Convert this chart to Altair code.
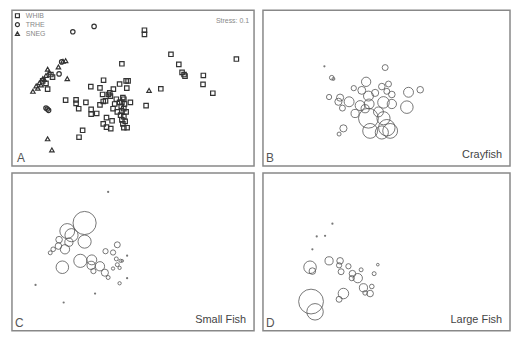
import altair as alt
import pandas as pd

# ---------------- Panel A: NMDS ordination by species ----------------
whib_x = [-1.305, -1.33, -1.255, -1.38, -1.23,
          0.175, 0.175, 0.58, 1.58, 0.70, 0.75, 0.78, 0.795, 1.075, 1.07, 1.22,
          -0.17, -0.45, -0.105, -0.075, -0.205, -0.645, -0.505, -0.30, -0.095, 0.425,
          -0.465, -0.375, -0.345, -0.155, -1.03, -0.87, -0.87, -0.72, -0.83, -0.64,
          -0.64, -0.555, -0.505, -0.455, -0.42, -0.255, -0.305, -0.24, -0.04, 0.20,
          -0.405, -0.32, -0.455, -0.405, -0.34, -0.77, -0.825,
          -0.14, -0.17, -0.13, -0.18, -0.14, -0.17, -0.105, -0.19, -0.14, -0.17,
          -0.12, -0.155, -0.14, -0.09, -0.205, -0.355, -0.28]
whib_y = [-0.015, 0.075, 0.215, 0.115, 0.175,
          0.915, 0.85, 0.535, 0.46, 0.375, 0.25, 0.215, 0.19, 0.20, 0.06, -0.08,
          0.385, 0.125, 0.115, 0.115, 0.065, 0.025, 0.005, -0.015, 0.0, -0.01,
          -0.10, -0.10, -0.125, -0.15, -0.19, -0.185, -0.24, -0.225, -0.325, -0.335,
          -0.41, -0.40, -0.265, -0.21, -0.20, -0.175, -0.325, -0.375, -0.225, -0.275,
          -0.465, -0.515, -0.565, -0.615, -0.64, -0.665, -0.775,
          -0.175, -0.225, -0.25, -0.285, -0.325, -0.365, -0.375, -0.425, -0.45, -0.50,
          -0.525, -0.565, -0.625, -0.625, -0.225, -0.075, -0.25]
trhe_x = [-0.92, -0.595, -1.09, -1.13, -1.33, -1.29, -1.31]
trhe_y = [0.89, 0.975, 0.415, 0.225, -0.315, -0.35, -0.33]
sneg_x = [-1.03, -1.07, -1.14, -1.305, -1.28, -1.33, -1.38, -1.43, -1.48, -1.53,
          -1.355, -1.005, 0.245, -1.305, -1.24, -1.455, -1.405]
sneg_y = [0.435, 0.425, 0.335, 0.30, 0.25, 0.20, 0.15, 0.085, 0.035, -0.05,
          0.135, 0.15, -0.035, -0.80, -0.975, 0.0, 0.05]
groups = ["WHIB", "TRHE", "SNEG"]
stress_label = "Stress: 0.1"

# ---------------- Bubble panels (abundance) ----------------
cray_x = [-0.93, -0.02, -0.82, -0.795, -0.305, 0.03, -0.49, -0.37, -0.07, 0.33,
          0.505, -0.86, -0.695, -0.56, -0.17, -0.27, 0.005, 0.08, -0.72, -0.66,
          -0.395, -0.26, -0.045, 0.08, 0.305, -0.47, -0.27, -0.045, 0.005, 0.055,
          -0.245, -0.07, -0.645, -0.71, -0.12, -0.32]
cray_y = [0.345, 0.325, 0.165, 0.145, 0.10, 0.065, 0.0, -0.035, 0.025, -0.065,
          -0.025, -0.14, -0.15, -0.215, -0.075, -0.125, -0.05, -0.10, -0.215, -0.315,
          -0.275, -0.25, -0.225, -0.25, -0.30, -0.40, -0.475, -0.475, -0.625, -0.675,
          -0.675, -0.70, -0.635, -0.725, -0.375, -0.325]
cray_n = [0, 9, 5.4, 2.2, 22, 9, 7, 16, 11, 25,
          11, 7, 13, 25, 13, 25, 9, 11, 13, 9,
          25, 25, 34, 22, 40, 17, 100, 44, 69, 56,
          56, 44, 13, 4, 25, 17]

sfish_x = [-0.38, -0.74, -1.005, -0.94, -0.74, -1.13, -1.14, -1.04, -1.22, -1.265,
           -0.98, -1.08, -0.805, -0.63, -0.64, -0.505, -0.43, -0.605, -0.38, -0.24,
           -0.42, -0.305, -0.255, -0.19, -0.165, -0.24, -0.305, -0.205, -0.205,
           -0.09, -0.09, -1.49, -0.58, -1.06]
sfish_y = [0.935, 0.45, 0.325, 0.26, 0.16, 0.19, 0.09, 0.04, 0.04, -0.015,
           0.15, -0.24, -0.14, -0.125, -0.21, -0.225, -0.325, -0.30, -0.40, 0.11,
           0.01, -0.01, -0.11, -0.14, -0.14, -0.20, -0.26, -0.25, -0.49,
           -0.06, -0.41, -0.515, -0.65, -0.79]
sfish_n = [0, 136, 56, 44, 44, 11, 11, 22, 5.4, 4,
           17, 40, 44, 25, 17, 22, 13, 7, 4, 9,
           7, 7, 4, 2.8, 1.8, 4, 2.8, 2.8, 2.8,
           0, 0, 0, 0, 0]

lfish_x = [-0.81, -1.045, -0.92, -1.11, -1.145, -1.11, -0.86, -0.695, -0.71, -0.57,
           -0.68, -0.51, -0.43, -0.52, -0.38, -0.185, -0.13, -0.345, -0.245, -0.22,
           -0.32, -0.645, -0.71, -1.13, -1.07]
lfish_y = [0.44, 0.24, 0.25, 0.04, -0.24, -0.30, -0.14, -0.14, -0.21, -0.225,
           -0.31, -0.34, -0.41, -0.41, -0.28, -0.34, -0.20, -0.56, -0.65, -0.54,
           -0.64, -0.65, -0.74, -0.775, -0.935]
lfish_n = [0, 0, 0, 0, 40, 11, 17, 11, 7, 7,
           9, 11, 22, 7, 4, 4, 1.8, 17, 11, 5.4,
           5.4, 28, 9, 156, 69]

X_DOMAIN = [-1.85, 1.85]
Y_DOMAIN = [-1.23, 1.23]
FONT = "Liberation Sans"


def xy():
    return dict(
        x=alt.X("x:Q", scale=alt.Scale(domain=X_DOMAIN, nice=False, zero=False), axis=None),
        y=alt.Y("y:Q", scale=alt.Scale(domain=Y_DOMAIN, nice=False, zero=False), axis=None),
    )


def corner_texts(letter, label, w, h, letter_x):
    layers = [
        alt.Chart(pd.DataFrame({"t": [letter]})).mark_text(
            font=FONT, fontSize=12, color="#555", align="left", baseline="bottom"
        ).encode(text="t:N", x=alt.value(letter_x), y=alt.value(h - 1))
    ]
    if label:
        layers.append(
            alt.Chart(pd.DataFrame({"t": [label]})).mark_text(
                font=FONT, fontSize=11, color="#444", align="right", baseline="alphabetic"
            ).encode(text="t:N", x=alt.value(w - 8), y=alt.value(h - 8))
        )
    return layers


# Panel A
dfA = pd.concat([
    pd.DataFrame({"x": whib_x, "y": whib_y, "g": "WHIB"}),
    pd.DataFrame({"x": trhe_x, "y": trhe_y, "g": "TRHE"}),
    pd.DataFrame({"x": sneg_x, "y": sneg_y, "g": "SNEG"}),
])
WA, HA = 244, 157
pointsA = alt.Chart(dfA).mark_point(
    filled=False, size=20, strokeWidth=1.2, color="#333", opacity=1
).encode(
    **xy(),
    shape=alt.Shape(
        "g:N",
        scale=alt.Scale(domain=groups, range=["square", "circle", "triangle-up"]),
        legend=alt.Legend(
            title=None, orient="top-left", offset=2, padding=0, rowPadding=0,
            labelFont=FONT, labelFontSize=7, labelColor="#888", labelOffset=5,
            symbolSize=16, symbolStrokeWidth=1.2, symbolStrokeColor="#333",
            symbolFillColor="transparent",
        ),
    ),
)
stress = alt.Chart(pd.DataFrame({"t": [stress_label]})).mark_text(
    font=FONT, fontSize=7, color="#888", align="right", baseline="middle"
).encode(text="t:N", x=alt.value(WA - 5), y=alt.value(11))
panelA = alt.layer(pointsA, stress, *corner_texts("A", None, WA, HA, 5)).properties(width=WA, height=HA)


def bubble_panel(xs, ys, ns, letter, label, w, h):
    df = pd.DataFrame({"x": xs, "y": ys, "n": ns})
    bubbles = alt.Chart(df).transform_filter("datum.n > 0").mark_point(
        shape="circle", filled=False, color="#555", strokeWidth=0.8, opacity=1
    ).encode(
        **xy(),
        size=alt.Size("n:Q", scale=alt.Scale(domain=[0, 100], range=[0, 400]), legend=None),
    )
    dots = alt.Chart(df).transform_filter("datum.n == 0").mark_circle(
        size=5, color="#777", opacity=1
    ).encode(**xy())
    return alt.layer(bubbles, dots, *corner_texts(letter, label, w, h, 3)).properties(width=w, height=h)


panelB = bubble_panel(cray_x, cray_y, cray_n, "B", "Crayfish", 249, 157)
panelC = bubble_panel(sfish_x, sfish_y, sfish_n, "C", "Small Fish", 244, 159)
panelD = bubble_panel(lfish_x, lfish_y, lfish_n, "D", "Large Fish", 249, 159)

chart = alt.vconcat(
    alt.hconcat(panelA, panelB, spacing=7),
    alt.hconcat(panelC, panelD, spacing=7),
    spacing=5,
).resolve_scale(size="independent", shape="independent").configure_view(
    stroke="#888", strokeWidth=1.5
).properties(
    padding={"left": 3, "top": 0, "right": 0, "bottom": 0},
    background="white",
)

chart.save("out.html", embed_options={"renderer": "svg", "actions": False})
